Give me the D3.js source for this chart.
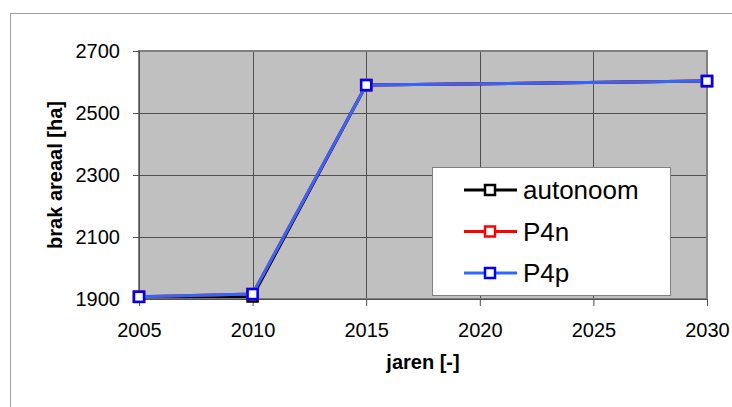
<!DOCTYPE html>
<html>
<head>
<meta charset="utf-8">
<script src="https://cdn.jsdelivr.net/npm/d3@7"></script>
<style>
  body { margin: 0; background: #fff; }
  svg { display: block; }
</style>
</head>
<body>
<div id="chart"></div>
<script>
const years = [2005, 2010, 2015, 2030];
const autonoom = [1907, 1908, 2590, 2603];
const p4n = [1907, 1916, 2590, 2603];
const p4p = [1907, 1916, 2590, 2603];
const xTicks = [2005, 2010, 2015, 2020, 2025, 2030];
const yTicks = [1900, 2100, 2300, 2500, 2700];
const seriesNames = ["autonoom", "P4n", "P4p"];

const W = 732, H = 407;
const margin = { top: 51, right: 25, bottom: 108, left: 139 };
const width = W - margin.left - margin.right,
  height = H - margin.top - margin.bottom;

const svg = d3
  .select("#chart")
  .append("svg")
  .attr("width", W)
  .attr("height", H);

// outer chart border (runs off the picture on right and bottom)
svg
  .append("rect")
  .attr("x", 10.5)
  .attr("y", 13.5)
  .attr("width", W)
  .attr("height", H)
  .attr("fill", "none")
  .attr("stroke", "#a0a0a0")
  .attr("stroke-width", 1);

const g = svg
  .append("g")
  .attr("transform", `translate(${margin.left},${margin.top})`);

const x = d3.scaleLinear().domain([2005, 2030]).range([0, width]);
const y = d3.scaleLinear().domain([1900, 2700]).range([height, 0]);

// plot area
g.append("rect")
  .attr("width", width)
  .attr("height", height)
  .attr("fill", "#c0c0c0");

// grid
g.selectAll(".hgrid")
  .data(yTicks)
  .join("line")
  .attr("x1", 0)
  .attr("x2", width)
  .attr("y1", (d) => Math.round(y(d)) + 0.5)
  .attr("y2", (d) => Math.round(y(d)) + 0.5)
  .attr("stroke", "#505050")
  .attr("stroke-width", 1);

g.selectAll(".vgrid")
  .data(xTicks)
  .join("line")
  .attr("x1", (d) => Math.round(x(d)) + 0.5)
  .attr("x2", (d) => Math.round(x(d)) + 0.5)
  .attr("y1", 0)
  .attr("y2", height)
  .attr("stroke", "#505050")
  .attr("stroke-width", 1);

// plot border
g.append("rect")
  .attr("width", width)
  .attr("height", height)
  .attr("fill", "none")
  .attr("stroke", "#808080")
  .attr("stroke-width", 2);

// axes
const yAxis = g
  .append("g")
  .call(d3.axisLeft(y).tickValues(yTicks).tickFormat(d3.format("d")).tickSize(6).tickPadding(13));
const xAxis = g
  .append("g")
  .attr("transform", `translate(0,${height})`)
  .call(d3.axisBottom(x).tickValues(xTicks).tickFormat(d3.format("d")).tickSize(7).tickPadding(17));

[yAxis, xAxis].forEach((a) => {
  a.select(".domain").attr("stroke", "#505050");
  a.selectAll(".tick line").attr("stroke", "#505050");
  a.selectAll("text")
    .attr("fill", "#000")
    .style("font-family", "'Liberation Sans', Arial, sans-serif")
    .style("font-size", "20px");
});

// axis titles
svg
  .append("text")
  .attr("x", margin.left + width / 2)
  .attr("y", 369)
  .attr("text-anchor", "middle")
  .style("font-family", "'Liberation Sans', Arial, sans-serif")
  .style("font-weight", "bold")
  .style("font-size", "20px")
  .text("jaren [-]");

svg
  .append("text")
  .attr("transform", `translate(62,${margin.top + height / 2}) rotate(-90)`)
  .attr("text-anchor", "middle")
  .style("font-family", "'Liberation Sans', Arial, sans-serif")
  .style("font-weight", "bold")
  .style("font-size", "20px")
  .text("brak areaal [ha]");

// series
const colors = { autonoom: "#000000", P4n: "#ff0000", P4p: "#3366ff" };
const markerStroke = { autonoom: "#000000", P4n: "#ff0000", P4p: "#0000ff" };
const dataReady = [autonoom, p4n, p4p].map((vals, i) => ({
  name: seriesNames[i],
  values: years.map((yr, j) => ({ year: yr, value: vals[j] })),
}));

const line = d3
  .line()
  .x((d) => x(d.year))
  .y((d) => y(d.value));

dataReady.forEach((s) => {
  g.append("path")
    .datum(s.values)
    .attr("d", line)
    .attr("fill", "none")
    .attr("stroke", colors[s.name])
    .attr("stroke-width", 3);
  g.selectAll(null)
    .data(s.values)
    .join("rect")
    .attr("x", (d) => x(d.year) - 5)
    .attr("y", (d) => y(d.value) - 5)
    .attr("width", 10)
    .attr("height", 10)
    .attr("fill", "#fff")
    .attr("stroke", markerStroke[s.name])
    .attr("stroke-width", 2.5);
});

// legend
const legend = svg.append("g").attr("transform", "translate(432,167)");
legend
  .append("rect")
  .attr("x", 0.5)
  .attr("y", 0.5)
  .attr("width", 238)
  .attr("height", 128)
  .attr("fill", "#fff")
  .attr("stroke", "#808080")
  .attr("stroke-width", 1);

const item = legend
  .selectAll(".item")
  .data(seriesNames)
  .join("g")
  .attr("transform", (d, i) => `translate(0,${23 + i * 41.5})`);

item
  .append("line")
  .attr("x1", 32)
  .attr("x2", 85)
  .attr("stroke", (d) => colors[d])
  .attr("stroke-width", 3);
item
  .append("rect")
  .attr("x", 53)
  .attr("y", -5)
  .attr("width", 10)
  .attr("height", 10)
  .attr("fill", "#fff")
  .attr("stroke", (d) => markerStroke[d])
  .attr("stroke-width", 2.5);
item
  .append("text")
  .attr("x", 91)
  .attr("y", 9)
  .style("font-family", "'Liberation Sans', Arial, sans-serif")
  .style("font-size", "26px")
  .text((d) => d);
</script>
</body>
</html>
